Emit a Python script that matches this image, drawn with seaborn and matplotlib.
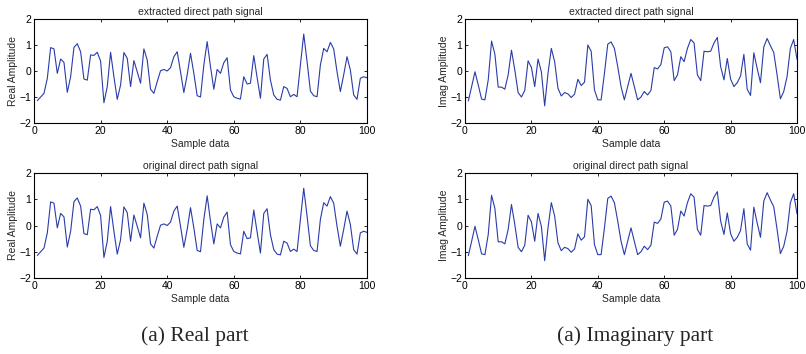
import numpy as np
import pandas as pd
import seaborn as sns
import matplotlib
matplotlib.use("Agg")
import matplotlib.pyplot as plt

# sample index 1..100
samples = list(range(1, 101))

# real part of the direct path signal
real_part = [
    -1.14, -1.00, -0.86, -0.28, 0.90, 0.85, -0.09, 0.46, 0.33, -0.82,
    -0.22, 0.91, 1.05, 0.74, -0.31, -0.35, 0.62, 0.60, 0.72, 0.38,
    -1.22, -0.60, 0.72, -0.22, -1.09, -0.54, 0.71, 0.49, -0.60, 0.40,
    -0.03, -0.47, 0.85, 0.42, -0.70, -0.86, -0.41, 0.01, 0.06, 0.00,
    0.13, 0.55, 0.74, -0.03, -0.83, -0.15, 0.68, -0.09, -0.95, -1.00,
    0.23, 1.13, 0.17, -0.70, 0.06, -0.09, 0.32, 0.51, -0.73, -0.99,
    -1.05, -1.08, -0.22, -0.50, -0.47, 0.59, -0.25, -1.05, 0.46, 0.64,
    -0.35, -0.92, -1.09, -1.12, -0.60, -0.67, -0.99, -0.90, -0.99, 0.23,
    1.42, 0.36, -0.77, -0.95, -0.99, 0.23, 0.87, 0.74, 1.10, 0.85,
    -0.03, -0.79, -0.15, 0.55, 0.04, -0.92, -1.09, -0.28, -0.22, -0.26,
]

# imaginary part of the direct path signal
imag_part = [
    -1.15, -0.60, -0.03, -0.54, -1.08, -1.11, -0.34, 1.15, 0.65, -0.62,
    -0.62, -0.70, -0.15, 0.80, 0.04, -0.83, -1.00, -0.75, 0.39, 0.14,
    -0.60, 0.46, -0.03, -1.34, -0.09, 0.87, 0.36, -0.66, -0.96, -0.83,
    -0.88, -1.02, -0.89, -0.32, -0.56, -0.43, 1.00, 0.76, -0.73, -1.11,
    -1.11, -0.09, 1.03, 1.12, 0.87, 0.17, -0.60, -1.11, -0.60, -0.09,
    -0.60, -1.11, -1.00, -0.79, -0.92, -0.75, 0.13, 0.08, 0.25, 0.89,
    0.93, 0.74, -0.37, -0.15, 0.55, 0.36, 0.87, 1.21, 1.08, -0.15,
    -0.37, 0.76, 0.74, 0.76, 1.08, 1.29, 0.17, -0.34, 0.48, -0.31,
    -0.60, -0.45, -0.19, 0.64, -0.70, -0.94, 0.70, 0.10, -0.45, 0.93,
    1.25, 0.97, 0.71, -0.15, -1.07, -0.79, -0.22, 0.87, 1.21, 0.45,
]

x_ticks = [0, 20, 40, 60, 80, 100]
y_ticks = [-2, -1, 0, 1, 2]
titles = ["extracted direct path signal", "original direct path signal"]
y_labels = ["Real Amplitude", "Imag Amplitude"]
captions = ["(a) Real part", "(a) Imaginary part"]

sns.set_theme(style="ticks")
plt.rcParams["font.family"] = ["Liberation Sans", "DejaVu Sans"]
plt.rcParams["xtick.direction"] = "in"
plt.rcParams["ytick.direction"] = "in"
plt.rcParams["xtick.major.size"] = 2.5
plt.rcParams["ytick.major.size"] = 2.5
plt.rcParams["xtick.major.width"] = 0.6
plt.rcParams["ytick.major.width"] = 0.6
plt.rcParams["axes.linewidth"] = 0.8

df = pd.DataFrame({"sample": samples, "real": real_part, "imag": imag_part})

W, H = 806, 354
fig = plt.figure(figsize=(W / 100, H / 100), dpi=100)

# [left, bottom, width, height] in figure fraction (MATLAB subplot look)
col_left = [34 / W, 465 / W]
col_width = [333 / W, 332 / W]
row_bottom = [1 - 123 / H, 1 - 278 / H]
row_height = [104 / H, 105 / H]

line_color = "#2a3caa"

for c, col in enumerate(["real", "imag"]):
    for r in range(2):
        ax = fig.add_axes([col_left[c], row_bottom[r], col_width[c], row_height[r]])
        sns.lineplot(data=df, x="sample", y=col, ax=ax, color=line_color, linewidth=0.8)
        ax.set_xlim(0, 100)
        ax.set_ylim(-2, 2)
        ax.set_xticks(x_ticks)
        ax.set_yticks(y_ticks)
        ax.tick_params(labelsize=7.5, pad=2, top=True, right=True, colors="black")
        ax.set_title(titles[r], fontsize=7.5, pad=3)
        ax.set_xlabel("Sample data", fontsize=7.5, labelpad=2)
        ax.set_ylabel(y_labels[c], fontsize=7.5, labelpad=1)
        for s in ax.spines.values():
            s.set_visible(True)
            s.set_color("black")

fig.text(195 / W, 1 - 336 / H, captions[0], ha="center", va="center",
         fontsize=15.5, family=["Liberation Serif", "DejaVu Serif"])
fig.text(635 / W, 1 - 336 / H, captions[1], ha="center", va="center",
         fontsize=15.5, family=["Liberation Serif", "DejaVu Serif"])

fig.savefig("out.png", dpi=100)
